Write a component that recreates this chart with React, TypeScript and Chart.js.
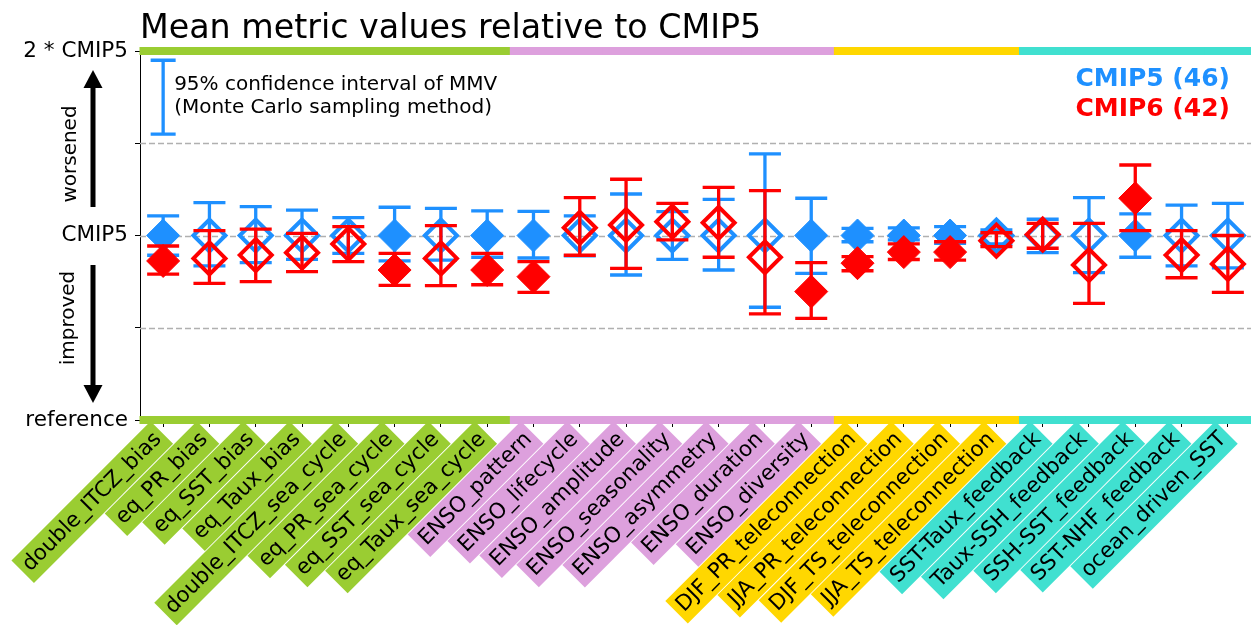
import React, { useEffect, useRef } from 'react';
import { Chart, registerables } from 'chart.js';

Chart.register(...registerables);

const categories = [
  'double_ITCZ_bias', 'eq_PR_bias', 'eq_SST_bias', 'eq_Taux_bias',
  'double_ITCZ_sea_cycle', 'eq_PR_sea_cycle', 'eq_SST_sea_cycle', 'eq_Taux_sea_cycle',
  'ENSO_pattern', 'ENSO_lifecycle', 'ENSO_amplitude', 'ENSO_seasonality',
  'ENSO_asymmetry', 'ENSO_duration', 'ENSO_diversity',
  'DJF_PR_teleconnection', 'JJA_PR_teleconnection', 'DJF_TS_teleconnection', 'JJA_TS_teleconnection',
  'SST-Taux_feedback', 'Taux-SSH_feedback', 'SSH-SST_feedback', 'SST-NHF_feedback', 'ocean_driven_SST',
];
const categoryGroup = [0, 0, 0, 0, 0, 0, 0, 0, 1, 1, 1, 1, 1, 1, 1, 2, 2, 2, 2, 3, 3, 3, 3, 3];
const groupColors = ['#9ACD32', '#DDA0DD', '#FFD700', '#40E0D0'];

const cmip5Value = [1, 1, 1, 1, 1, 1, 1, 1, 1, 1, 1, 1, 1, 1, 1, 1, 1, 1, 1, 1, 1, 1, 1, 1];
const cmip5Low = [0.893, 0.835, 0.853, 0.871, 0.903, 0.862, 0.867, 0.882, 0.878, 0.89, 0.786, 0.871,
  0.813, 0.611, 0.795, 0.966, 0.976, 0.958, 0.954, 0.907, 0.799, 0.882, 0.835, 0.825];
const cmip5High = [1.106, 1.178, 1.156, 1.138, 1.097, 1.153, 1.147, 1.134, 1.131, 1.106, 1.225, 1.129,
  1.196, 1.442, 1.202, 1.039, 1.041, 1.048, 1.03, 1.088, 1.205, 1.117, 1.165, 1.174];
const cmip6Value = [0.862, 0.876, 0.894, 0.907, 0.954, 0.813, 0.876, 0.813, 0.777, 1.042, 1.057, 1.075,
  1.069, 0.882, 0.696, 0.85, 0.91, 0.91, 0.972, 1.005, 0.84, 1.202, 0.894, 0.846];
const cmip6Low = [0.791, 0.741, 0.75, 0.804, 0.858, 0.73, 0.728, 0.733, 0.692, 0.893, 0.822, 0.976,
  0.882, 0.575, 0.551, 0.809, 0.87, 0.867, 0.94, 0.931, 0.632, 1.026, 0.771, 0.692];
const cmip6High = [0.943, 1.026, 1.035, 1.012, 1.048, 0.903, 1.053, 0.903, 0.858, 1.205, 1.305, 1.174,
  1.261, 1.243, 0.853, 0.885, 0.955, 0.966, 1.015, 1.066, 1.066, 1.382, 1.026, 1.0];
const significant = [true, false, false, false, false, true, false, true, true, false, false, false,
  false, false, true, true, true, true, false, false, false, true, false, false];

const yTickValues = [0, 0.5, 1, 1.5, 2];
const yTickLabels = ['reference', '', 'CMIP5', '', '2 * CMIP5'];
const gridValues = [0.5, 1, 1.5];

const BLUE = '#1E90FF';
const RED = '#FF0000';
const FONT = '"DejaVu Sans", sans-serif';

const errorBarPlugin = {
  id: 'errorBars',
  beforeDatasetDraw(chart: any, args: any) {
    const ds = chart.data.datasets[args.index];
    if (!ds.errLow) return;
    const ctx = chart.ctx;
    const xs = chart.scales.x;
    const ys = chart.scales.y;
    ctx.save();
    ctx.strokeStyle = ds.borderColor;
    ctx.lineWidth = 3.3;
    ctx.lineCap = 'butt';
    for (let i = 0; i < ds.errLow.length; i++) {
      const x = xs.getPixelForValue(i);
      const yl = ys.getPixelForValue(ds.errLow[i]);
      const yh = ys.getPixelForValue(ds.errHigh[i]);
      ctx.beginPath();
      ctx.moveTo(x, yl);
      ctx.lineTo(x, yh);
      ctx.moveTo(x - 16, yl);
      ctx.lineTo(x + 16, yl);
      ctx.moveTo(x - 16, yh);
      ctx.lineTo(x + 16, yh);
      ctx.stroke();
    }
    ctx.restore();
  },
};

const decorPlugin = {
  id: 'decor',
  beforeDatasetsDraw(chart: any) {
    const ctx = chart.ctx;
    const a = chart.chartArea;
    const ys = chart.scales.y;
    ctx.save();
    ctx.strokeStyle = '#b0b0b0';
    ctx.lineWidth = 1.3;
    ctx.setLineDash([6, 3]);
    for (const v of gridValues) {
      const y = Math.round(ys.getPixelForValue(v)) + 0.5;
      ctx.beginPath();
      ctx.moveTo(a.left, y);
      ctx.lineTo(a.right, y);
      ctx.stroke();
    }
    ctx.restore();
  },
  afterDatasetsDraw(chart: any) {
    const ctx = chart.ctx;
    const xs = chart.scales.x;
    const ys = chart.scales.y;
    ctx.save();
    ctx.lineWidth = 8;
    ctx.lineCap = 'butt';
    for (let i = 0; i < categories.length; i++) {
      const x = xs.getPixelForValue(i);
      const half = xs.width / categories.length / 2;
      ctx.strokeStyle = groupColors[categoryGroup[i]];
      for (const v of [0, 2]) {
        const y = ys.getPixelForValue(v);
        ctx.beginPath();
        ctx.moveTo(x - half - 0.5, y);
        ctx.lineTo(x + half + 0.5, y);
        ctx.stroke();
      }
    }
    ctx.restore();
  },
  afterDraw(chart: any) {
    const ctx = chart.ctx;
    const a = chart.chartArea;
    const xs = chart.scales.x;
    const ys = chart.scales.y;
    ctx.save();
    ctx.fillStyle = '#000';
    ctx.font = `33.3px ${FONT}`;
    ctx.textAlign = 'left';
    ctx.textBaseline = 'alphabetic';
    ctx.fillText('Mean metric values relative to CMIP5', a.left, 37.5);

    const lx = xs.getPixelForValue(0);
    const ly1 = ys.getPixelForValue(1.95);
    const ly2 = ys.getPixelForValue(1.55);
    ctx.strokeStyle = BLUE;
    ctx.lineWidth = 3.3;
    ctx.beginPath();
    ctx.moveTo(lx, ly1);
    ctx.lineTo(lx, ly2);
    ctx.moveTo(lx - 12.5, ly1);
    ctx.lineTo(lx + 12.5, ly1);
    ctx.moveTo(lx - 12.5, ly2);
    ctx.lineTo(lx + 12.5, ly2);
    ctx.stroke();
    ctx.fillStyle = '#000';
    ctx.font = `20px ${FONT}`;
    ctx.textBaseline = 'middle';
    ctx.fillText('95% confidence interval of MMV', lx + 11, 85);
    ctx.fillText('(Monte Carlo sampling method)', lx + 11, 108);

    ctx.font = `bold 25px ${FONT}`;
    ctx.textAlign = 'right';
    ctx.fillStyle = BLUE;
    ctx.fillText('CMIP5 (46)', 1230, 79);
    ctx.fillStyle = RED;
    ctx.fillText('CMIP6 (42)', 1230, 109);

    ctx.fillStyle = '#000';
    ctx.font = `20px ${FONT}`;
    ctx.textAlign = 'center';
    ctx.textBaseline = 'alphabetic';
    const sideText = (t: string, x: number, y: number) => {
      ctx.save();
      ctx.translate(x, y);
      ctx.rotate(-Math.PI / 2);
      ctx.fillText(t, 0, 0);
      ctx.restore();
    };
    sideText('worsened', 76, 154);
    sideText('improved', 74, 318);

    const ax = 93;
    ctx.fillStyle = '#000';
    ctx.fillRect(ax - 2.5, 86, 5, 207 - 86);
    ctx.beginPath();
    ctx.moveTo(ax, 70);
    ctx.lineTo(ax - 9.5, 88);
    ctx.lineTo(ax + 9.5, 88);
    ctx.closePath();
    ctx.fill();
    ctx.fillRect(ax - 2.5, 265, 5, 387 - 265);
    ctx.beginPath();
    ctx.moveTo(ax, 403);
    ctx.lineTo(ax - 9.5, 385);
    ctx.lineTo(ax + 9.5, 385);
    ctx.closePath();
    ctx.fill();
    ctx.restore();
  },
};

const radii = significant.map((s) => (s ? 16.5 : 16));
const borderWidths = significant.map((s) => (s ? 1 : 4));

export default function App() {
  const ref = useRef<HTMLCanvasElement | null>(null);
  useEffect(() => {
    document.body.style.margin = '0';
    const canvas = ref.current;
    if (!canvas) return;
    const chart = new Chart(canvas, {
      type: 'line',
      data: {
        labels: categories,
        datasets: [
          {
            label: 'CMIP5',
            data: cmip5Value,
            showLine: false,
            borderColor: BLUE,
            backgroundColor: BLUE,
            pointStyle: 'rectRot',
            pointRadius: radii,
            pointHoverRadius: radii,
            pointBorderColor: BLUE,
            pointBackgroundColor: significant.map((s) => (s ? BLUE : 'rgba(0,0,0,0)')),
            pointBorderWidth: borderWidths,
            order: 2,
            clip: false,
            errLow: cmip5Low,
            errHigh: cmip5High,
          } as any,
          {
            label: 'CMIP6',
            data: cmip6Value,
            showLine: false,
            borderColor: RED,
            backgroundColor: RED,
            pointStyle: 'rectRot',
            pointRadius: radii,
            pointHoverRadius: radii,
            pointBorderColor: RED,
            pointBackgroundColor: significant.map((s) => (s ? RED : 'rgba(0,0,0,0)')),
            pointBorderWidth: borderWidths,
            order: 1,
            clip: false,
            errLow: cmip6Low,
            errHigh: cmip6High,
          } as any,
        ],
      },
      options: {
        responsive: false,
        animation: false,
        events: [],
        layout: { autoPadding: false, padding: { top: 51, left: 0, right: 0, bottom: 0 } },
        plugins: {
          legend: { display: false },
          tooltip: { enabled: false },
          title: { display: false },
        },
        scales: {
          x: {
            type: 'category',
            offset: true,
            grid: {
              display: true,
              drawOnChartArea: false,
              drawTicks: true,
              tickLength: 7,
              tickColor: '#000',
              tickWidth: 1,
            },
            border: { display: false },
            ticks: {
              autoSkip: false,
              maxRotation: 45,
              minRotation: 45,
              color: '#000',
              font: { family: FONT, size: 21.5 },
              padding: 0,
              labelOffset: -14,
              showLabelBackdrop: true,
              backdropColor: (c: any) => groupColors[categoryGroup[c.index]],
              backdropPadding: { top: 3, bottom: 3, left: 5, right: 5 },
            },
            afterFit: (s: any) => {
              s.height = 205;
              s.paddingLeft = 0;
              s.paddingRight = 0;
            },
          },
          y: {
            type: 'linear',
            min: 0,
            max: 2,
            afterBuildTicks: (s: any) => {
              s.ticks = yTickValues.map((v) => ({ value: v }));
            },
            ticks: {
              color: '#000',
              font: { family: FONT, size: 21.5 },
              padding: 7,
              callback: (v: any) => {
                const i = yTickValues.indexOf(Number(v));
                return i >= 0 ? yTickLabels[i] : '';
              },
            },
            grid: {
              display: true,
              drawOnChartArea: false,
              drawTicks: true,
              tickLength: 5,
              tickColor: '#000',
              tickWidth: 1,
            },
            border: { display: true, color: '#000', width: 1 },
            afterFit: (s: any) => {
              s.width = 140;
            },
          },
        },
      } as any,
      plugins: [errorBarPlugin, decorPlugin],
    });
    return () => chart.destroy();
  }, []);
  return <canvas ref={ref} width={1251} height={625} style={{ display: 'block' }} />;
}
